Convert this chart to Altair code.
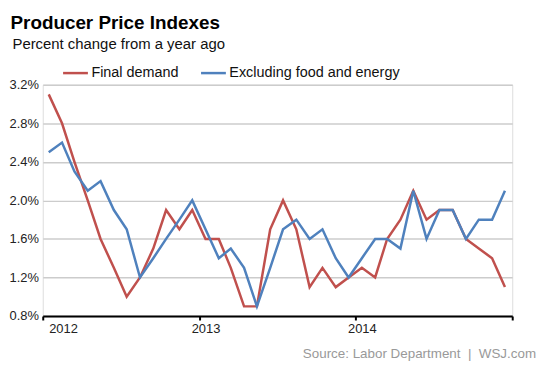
import altair as alt
import pandas as pd

final_demand = [3.1, 2.8, 2.4, 2.0, 1.6, 1.3, 1.0, 1.2, 1.5, 1.9, 1.7, 1.9,
                1.6, 1.6, 1.3, 0.9, 0.9, 1.7, 2.0, 1.7, 1.1, 1.3, 1.1, 1.2,
                1.3, 1.2, 1.6, 1.8, 2.1, 1.8, 1.9, 1.9, 1.6, 1.5, 1.4, 1.1]
core = [2.5, 2.6, 2.3, 2.1, 2.2, 1.9, 1.7, 1.2, 1.4, 1.6, 1.8, 2.0,
        1.7, 1.4, 1.5, 1.3, 0.9, 1.3, 1.7, 1.8, 1.6, 1.7, 1.4, 1.2,
        1.4, 1.6, 1.6, 1.5, 2.1, 1.6, 1.9, 1.9, 1.6, 1.8, 1.8, 2.1]
series_names = ["Final demand", "Excluding food and energy"]
series_colors = ["#c0504d", "#4f81bd"]
y_ticks = [0.8, 1.2, 1.6, 2.0, 2.4, 2.8, 3.2]
year_ticks = [2012, 2013, 2014, 2015]
title_text = "Producer Price Indexes"
subtitle_text = "Percent change from a year ago"
source_text = "Source: Labor Department\u00a0 |\u00a0 WSJ.com"

months = pd.date_range("2012-01-01", periods=36, freq="MS") + pd.Timedelta(days=14)
df = pd.concat([
    pd.DataFrame({"date": months, "value": final_demand, "series": series_names[0]}),
    pd.DataFrame({"date": months, "value": core, "series": series_names[1]}),
])

FONT = "Liberation Sans"

x_enc = alt.X(
    "date:T",
    scale=alt.Scale(domain=["2012-01-01T00:00:00", "2015-01-01T00:00:00"], nice=False),
    axis=alt.Axis(
        title=None,
        values=[alt.DateTime(year=y, month=1, date=1) for y in year_ticks],
        labelExpr="year(datum.value) == 2015 ? '' : timeFormat(datum.value, '%Y')",
        grid=False,
        domainColor="#000000",
        domainWidth=2,
        tickColor="#000000",
        tickWidth=2,
        tickSize=4,
        labelPadding=3,
        labelOffset=6,
        labelFont=FONT,
        labelFontSize=13,
        labelColor="#222222",
    ),
)

y_enc = alt.Y(
    "value:Q",
    scale=alt.Scale(domain=[0.8, 3.2], nice=False, zero=False),
    axis=alt.Axis(
        title=None,
        values=y_ticks,
        labelExpr="format(datum.value, '.1f') + '%'",
        domain=False,
        ticks=False,
        gridColor="#cccccc",
        gridWidth=1.5,
        labelAlign="left",
        labelPadding=34,
        labelFont=FONT,
        labelFontSize=13,
        labelColor="#222222",
    ),
)

lines = alt.Chart(df).mark_line(strokeWidth=2.5).encode(
    x=x_enc,
    y=y_enc,
    color=alt.Color(
        "series:N",
        scale=alt.Scale(domain=series_names, range=series_colors),
        sort=series_names,
        legend=alt.Legend(
            title=None,
            orient="none",
            direction="horizontal",
            legendX=19,
            legendY=-26,
            symbolType="stroke",
            symbolSize=625,
            symbolStrokeWidth=2.5,
            labelOffset=2,
            labelLimit=400,
            columnPadding=17,
            labelFont=FONT,
            labelFontSize=14.5,
            labelColor="#111111",
            padding=0,
        ),
    ),
)

def text_layer(txt, x, y, size, weight="normal", color="#000000", align="left"):
    return alt.Chart(pd.DataFrame({"t": [txt]})).mark_text(
        align=align, baseline="alphabetic", font=FONT, fontSize=size,
        fontWeight=weight, color=color,
    ).encode(x=alt.value(x), y=alt.value(y), text="t:N")

title = text_layer(title_text, -32.5, -56.5, 19, weight="bold", color="#000000")
subtitle = text_layer(subtitle_text, -30.5, -36, 15, color="#111111")
source = text_layer(source_text, 497, 275, 13.5, color="#999999", align="right")

chart = alt.layer(lines, title, subtitle, source).properties(
    width=473,
    height=233,
    autosize=alt.AutoSizeParams(type="none"),
    padding={"left": 35, "top": 76, "right": 30, "bottom": 45},
).configure_view(stroke=None).configure(background="#ffffff")

chart.save("out.html", embed_options={"renderer": "svg", "actions": False})
